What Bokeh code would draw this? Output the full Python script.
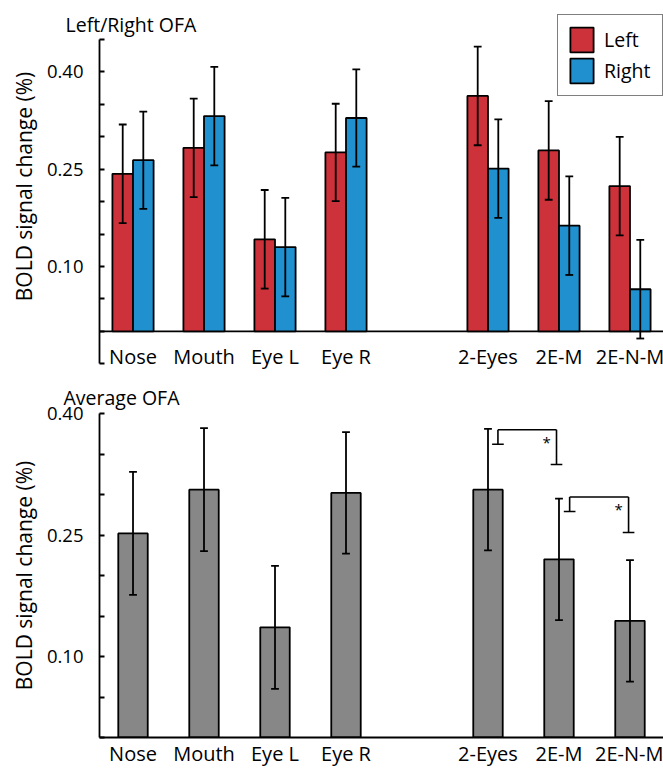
import numpy as np
from bokeh.plotting import figure
from bokeh.layouts import column
from bokeh.models import FixedTicker, PrintfTickFormatter, Title, Legend, LegendItem
from bokeh.core.properties import value
from bokeh.embed import file_html
from bokeh.resources import INLINE

# ---------------- data ----------------
categories = ["Nose", "Mouth", "Eye L", "Eye R", "2-Eyes", "2E-M", "2E-N-M"]
left_vals = [0.243, 0.283, 0.142, 0.276, 0.363, 0.279, 0.224]
left_err = [0.076, 0.076, 0.076, 0.075, 0.076, 0.076, 0.076]
right_vals = [0.264, 0.332, 0.130, 0.329, 0.251, 0.163, 0.065]
right_err = [0.075, 0.076, 0.076, 0.075, 0.076, 0.076, 0.076]
avg_vals = [0.252, 0.306, 0.136, 0.302, 0.306, 0.220, 0.144]
avg_err = [0.076, 0.076, 0.076, 0.075, 0.075, 0.075, 0.075]
series_names = ["Left", "Right"]
titles = ["Left/Right OFA", "Average OFA"]
ylabel = "BOLD signal change (%)"
top_major = [0.10, 0.25, 0.40]
top_minor = [-0.05, 0.0, 0.05, 0.15, 0.20, 0.30, 0.35, 0.45]
bot_major = [0.10, 0.25, 0.40]
bot_minor = [0.0, 0.05, 0.15, 0.20, 0.30, 0.35]
# significance brackets (bottom panel)
brk_x0 = [6.14, 7.15]
brk_x1 = [6.965, 7.98]
brk_top = [0.380, 0.297]
brk_y0 = [0.362, 0.279]
brk_y1 = [0.337, 0.253]
brk_text = ["*", "*"]

# ---------------- layout / style ----------------
slots = np.array([1, 2, 3, 4, 6, 7, 8], dtype=float)
FONT = "Open Sans"
RED = "#CD3139"
BLUE = "#2190CF"
GRAY = "#878787"
LW = 1.8
W = 663
FRAME_LEFT = 99
XR = (0.528, 8.472)
PAIR_W = 0.29
CAP = 0.11
TITLE_H = 40


def style_y(ax, major, minor, label):
    ax.ticker = FixedTicker(ticks=major, minor_ticks=minor)
    ax.formatter = PrintfTickFormatter(format="%.2f")
    ax.axis_line_width = LW
    ax.axis_line_color = "black"
    ax.major_tick_in = 5
    ax.major_tick_out = 0
    ax.minor_tick_in = 5
    ax.minor_tick_out = 0
    ax.major_tick_line_width = LW
    ax.minor_tick_line_width = LW
    ax.major_tick_line_color = "black"
    ax.minor_tick_line_color = "black"
    ax.major_label_text_font = FONT
    ax.major_label_text_font_size = "18.5px"
    ax.major_label_text_color = "black"
    ax.major_label_standoff = 16
    ax.axis_label = label
    ax.axis_label_text_font = FONT
    ax.axis_label_text_font_size = "21px"
    ax.axis_label_text_font_style = "normal"
    ax.axis_label_text_color = "black"
    ax.axis_label_standoff = 6


def errorbars(p, xs, vals, errs):
    xs = np.asarray(xs, dtype=float)
    v = np.asarray(vals)
    e = np.asarray(errs)
    hi = v + e
    lo = v - e
    p.segment(x0=xs, y0=lo, x1=xs, y1=hi, line_color="black", line_width=LW)
    p.segment(x0=xs - CAP / 2, y0=hi, x1=xs + CAP / 2, y1=hi, line_color="black", line_width=LW)
    p.segment(x0=xs - CAP / 2, y0=lo, x1=xs + CAP / 2, y1=lo, line_color="black", line_width=LW)


# ---------------- top title strip (sits under the transparent top panel) ----------------
pt = figure(width=W, height=TITLE_H, x_range=(0, W), y_range=(0, TITLE_H),
            x_axis_location=None, y_axis_location=None, output_backend="svg",
            toolbar_location=None, min_border=0)
pt.frame_align = False
pt.outline_line_color = None
pt.grid.grid_line_color = None
pt.text(x=[65], y=[16], text=[titles[0]], text_align="left", text_baseline="alphabetic",
        text_font=value(FONT), text_font_size="19.5px", text_color="black")

# ---------------- top panel ----------------
p1 = figure(width=W, height=372, x_range=XR, y_range=(-0.0634, 0.5102),
            x_axis_location=None, output_backend="svg", toolbar_location=None,
            min_border_left=FRAME_LEFT, min_border_right=0, min_border_top=0, min_border_bottom=0,
            margin=(-TITLE_H, 0, 0, 0))
p1.outline_line_color = None
p1.grid.grid_line_color = None
p1.border_fill_alpha = 0
p1.background_fill_alpha = 0
ya = p1.yaxis[0]
style_y(ya, top_major, top_minor, ylabel)
ya.bounds = (-0.05, 0.45)

# baseline at zero
p1.segment(x0=[XR[0]], y0=[0], x1=[XR[1]], y1=[0], line_color="black", line_width=LW)

rL = p1.vbar(x=slots - PAIR_W / 2, top=left_vals, bottom=0, width=PAIR_W,
             fill_color=RED, line_color="black", line_width=LW)
rR = p1.vbar(x=slots + PAIR_W / 2, top=right_vals, bottom=0, width=PAIR_W,
             fill_color=BLUE, line_color="black", line_width=LW)
errorbars(p1, slots - PAIR_W / 2, left_vals, left_err)
errorbars(p1, slots + PAIR_W / 2, right_vals, right_err)

p1.text(x=slots, y=-0.0387, text=categories, text_align="center", text_baseline="alphabetic",
        text_font=value(FONT), text_font_size="20px", text_color="black")

legend = Legend(items=[LegendItem(label=series_names[0], renderers=[rL]),
                       LegendItem(label=series_names[1], renderers=[rR])],
                location=(458, 276), glyph_width=29, glyph_height=31, label_standoff=8,
                padding=9, spacing=0, margin=0, label_width=49,
                label_text_font=FONT, label_text_font_size="19.5px", label_text_color="black",
                border_line_color="black", border_line_width=1.5, background_fill_color="white",
                background_fill_alpha=1.0)
p1.add_layout(legend)

# ---------------- bottom panel ----------------
p2 = figure(width=W, height=399, x_range=XR, y_range=(0, 0.40),
            output_backend="svg", toolbar_location=None,
            min_border_left=FRAME_LEFT, min_border_right=0, min_border_top=41, min_border_bottom=34)
p2.add_layout(Title(text=titles[1], align="left", offset=-36, standoff=6,
                    text_font=FONT, text_font_size="19.5px", text_font_style="normal",
                    text_color="black"), "above")
p2.outline_line_color = None
p2.grid.grid_line_color = None
style_y(p2.yaxis[0], bot_major, bot_minor, ylabel)

xa = p2.xaxis[0]
xa.ticker = FixedTicker(ticks=list(slots))
xa.major_label_overrides = {float(s): c for s, c in zip(slots, categories)}
xa.axis_line_width = LW
xa.axis_line_color = "black"
xa.major_tick_in = 0
xa.major_tick_out = 0
xa.minor_tick_in = 0
xa.minor_tick_out = 0
xa.major_label_text_font = FONT
xa.major_label_text_font_size = "20px"
xa.major_label_text_color = "black"
xa.major_label_standoff = 2

p2.vbar(x=slots, top=avg_vals, bottom=0, width=0.415, fill_color=GRAY,
        line_color="black", line_width=LW)
errorbars(p2, slots, avg_vals, avg_err)

bx0 = np.array(brk_x0)
bx1 = np.array(brk_x1)
bt = np.array(brk_top)
by0 = np.array(brk_y0)
by1 = np.array(brk_y1)
BCAP = 0.164
sx0 = np.concatenate([bx0, bx0, bx1, bx0 - BCAP / 2, bx1 - BCAP / 2])
sx1 = np.concatenate([bx0, bx1, bx1, bx0 + BCAP / 2, bx1 + BCAP / 2])
sy0 = np.concatenate([by0, bt, bt, by0, by1])
sy1 = np.concatenate([bt, bt, by1, by0, by1])
p2.segment(x0=sx0, y0=sy0, x1=sx1, y1=sy1, line_color="black", line_width=1.6)
p2.text(x=bx1 - 0.14, y=bt - 0.0135 - 0.0018, text=brk_text, text_align="center",
        text_baseline="alphabetic", text_font=value(FONT), text_font_size="15px",
        text_color="black")

layout = column(pt, p1, p2)
open("out.html", "w").write(file_html(layout, INLINE))
